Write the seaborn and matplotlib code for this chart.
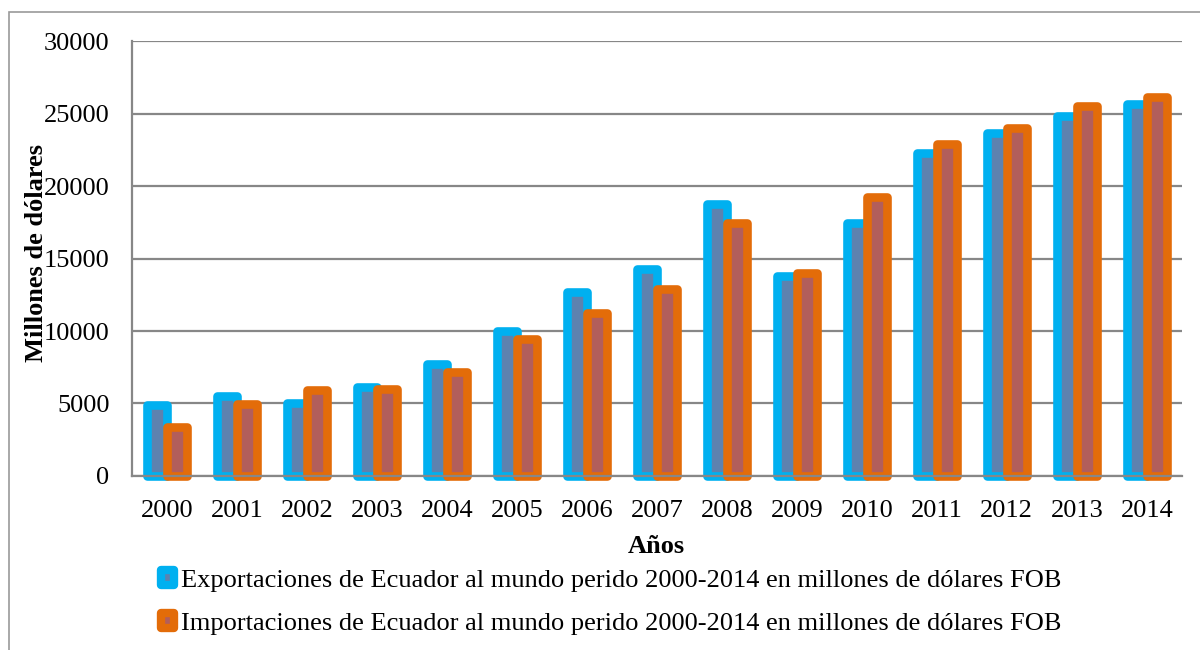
import pandas as pd
import matplotlib.pyplot as plt
import seaborn as sns
from matplotlib.patches import Rectangle

# Datos (millones de dolares FOB)
years = [str(y) for y in range(2000, 2015)]
exports = [4920, 5490, 5040, 6140, 7700, 10020, 12660, 14310, 18750, 13810,
           17430, 22300, 23690, 24810, 25670]
imports = [3390, 4940, 5950, 6030, 7190, 9480, 11210, 12910, 17480, 14010,
           19210, 22880, 23990, 25540, 26170]
series = ["Exportaciones de Ecuador al mundo perido 2000-2014 en millones de dólares FOB",
          "Importaciones de Ecuador al mundo perido 2000-2014 en millones de dólares FOB"]

face_colors = ["#4F81BD", "#C0504D"]
edge_colors = ["#00B0F0", "#E36C09"]

df = pd.DataFrame({
    "Año": years * 2,
    "valor": exports + imports,
    "serie": [series[0]] * len(years) + [series[1]] * len(years),
})

sns.set_style("white")
plt.rcParams["font.family"] = ["Liberation Serif", "DejaVu Serif"]
plt.rcParams["text.color"] = "black"
plt.rcParams["axes.labelcolor"] = "black"
fs = 19

fig = plt.figure(figsize=(12, 6.5), dpi=100)
ax = fig.add_axes([0.1098, 0.2677, 0.875, 0.6692])

sns.barplot(data=df, x="Año", y="valor", hue="serie", palette=face_colors,
            width=0.571, dodge=True, errorbar=None, legend=False, ax=ax,
            linewidth=6.2)

# borde grueso de color claro, esquinas redondeadas
for cont, ec in zip(ax.containers, edge_colors):
    for bar in cont:
        bar.set_edgecolor(ec)
        bar.set_joinstyle("round")
        bar.set_clip_on(False)

ax.set_ylim(0, 30000)
ax.set_yticks(range(0, 30001, 5000))
ax.set_xlim(-0.5, len(years) - 0.5)
ax.yaxis.grid(True, color="#878787", linewidth=1.6)
ax.set_axisbelow(True)
for s in ["top", "right"]:
    ax.spines[s].set_visible(False)
for s in ["left", "bottom"]:
    ax.spines[s].set_color("#878787")
    ax.spines[s].set_linewidth(1.6)

ax.tick_params(axis="y", length=5, width=1.6, color="#878787", labelcolor="black",
               labelsize=fs, pad=11)
ax.tick_params(axis="x", which="major", length=0, labelcolor="black", labelsize=fs, pad=17.5)
ax.set_xticks([i + 0.5 for i in range(-1, len(years))], minor=True)
ax.tick_params(axis="x", which="minor", length=7, width=1.6, color="#878787")

ax.set_xlabel("Años", fontsize=fs, fontweight="bold", labelpad=9.5)
ax.set_ylabel("Millones de dólares", fontsize=fs, fontweight="bold")
ax.yaxis.set_label_coords(-0.080, 0.513)

leg = fig.legend(handles=ax.containers, labels=series, loc="upper left",
                 bbox_to_anchor=(0.1233, 0.1431), bbox_transform=fig.transFigure,
                 frameon=False, fontsize=fs, handlelength=0.5, handleheight=0.5,
                 handletextpad=0.25, labelspacing=0.78, borderpad=0)
for p, ec in zip(leg.get_patches(), edge_colors):
    p.set_edgecolor(ec)
    p.set_linewidth(6)
    p.set_joinstyle("round")

# marco exterior del grafico
fig.patches.append(Rectangle((9 / 1200, -0.1), 1.2, 1.1 - 12 / 650, transform=fig.transFigure,
                             fill=False, edgecolor="#9a9a9a", linewidth=1.2))

fig.savefig("out.png", dpi=100)
